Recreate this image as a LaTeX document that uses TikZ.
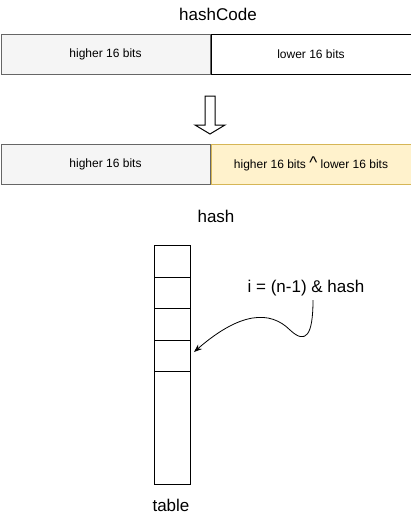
\documentclass[tikz,border=0pt]{standalone}
\usepackage{fontspec}
\setmainfont{Liberation Sans}
\usepackage{xcolor}
\usetikzlibrary{positioning,arrows.meta}
\definecolor{greyfill}{HTML}{F5F5F5}
\definecolor{greyline}{HTML}{666666}
\definecolor{yellowfill}{HTML}{FFF2CC}
\definecolor{yellowline}{HTML}{D6B656}
\tikzset{
	bits/.style={rectangle, draw, line width=1pt, minimum height=40pt, inner sep=0pt, font=\fontsize{12}{14}\selectfont},
	slot/.style={rectangle, draw, line width=1pt, minimum width=36pt, inner sep=0pt, outer sep=0pt},
	caption/.style={font=\fontsize{17}{20}\selectfont}
}

\begin{document}
\begin{tikzpicture}[x=1pt, y=-1pt]
    \useasboundingbox (0,0) rectangle (411,514);
    % hashCode
    \node (hashcode) [caption] at (218,14) {hashCode};
    \node (hi) [bits, fill=greyfill, draw=greyline, minimum width=209pt] at (105.5,54) {higher 16 bits};
    \node (lo) [bits, minimum width=200pt, anchor=west] at (hi.east) {lower 16 bits};
    % hollow arrow
    \draw [line width=1pt, fill=white] (205,96) -- (215,96) -- (215,125) -- (225,125) -- (210,134) -- (195,125) -- (205,125) -- cycle;
    % hash
    \node (hhi) [bits, fill=greyfill, draw=greyline, minimum width=209pt] at (105.5,164) {higher 16 bits};
    \node (xor) [bits, fill=yellowfill, draw=yellowline, minimum width=200pt, anchor=west] at (hhi.east) {higher 16 bits {\fontsize{17}{14}\selectfont\textasciicircum} lower 16 bits};
    \node (hash) [caption] at (216,216) {hash};
    % table
    \node (s1) [slot, minimum height=32pt] at (172,261) {};
    \node (s2) [slot, minimum height=31pt, below=0pt of s1] {};
    \node (s3) [slot, minimum height=32pt, below=0pt of s2] {};
    \node (s4) [slot, minimum height=31pt, below=0pt of s3] {};
    \node (s5) [slot, minimum height=113pt, below=0pt of s4] {};
    \node (table) [caption] at (171,505) {table};
    % index
    \node (idx) [caption] at (306,288) {i = (n-1) \& hash};
    \coordinate (from) at (313,300);
    \coordinate (to) at (194,352);
    \draw [-{Stealth[length=8pt,width=6pt]}, line width=0.8pt] (from) .. controls (313,335) and (306,345) .. (290,330) .. controls (270,310) and (240,312) .. (to);
\end{tikzpicture}
\end{document}
